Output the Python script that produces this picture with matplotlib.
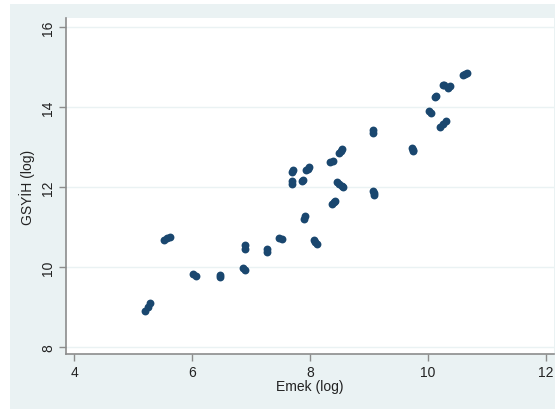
import matplotlib.pyplot as plt
from matplotlib.patches import Rectangle

plt.rcParams['font.family'] = ['Liberation Sans', 'DejaVu Sans']

# log labour vs log GDP, a few years per country
emek = [5.21, 5.25, 5.29,
        5.52, 5.57, 5.62,
        6.02, 6.06,
        6.47, 6.47,
        6.87, 6.90,
        6.89, 6.90,
        7.27, 7.27,
        7.48, 7.53,
        7.69, 7.69,
        7.70, 7.72,
        7.87, 7.88,
        7.93, 7.96, 7.99,
        7.90, 7.92,
        8.06, 8.09, 8.12,
        8.34, 8.39,
        8.49, 8.52, 8.55,
        8.46, 8.50, 8.54, 8.56,
        8.37, 8.40, 8.42,
        9.07, 9.07,
        9.07, 9.08, 9.09,
        9.73, 9.74, 9.75,
        10.02, 10.05,
        10.21, 10.26, 10.31,
        10.12, 10.13,
        10.25, 10.27,
        10.34, 10.37,
        10.60, 10.63, 10.66]
gsyih = [8.90, 9.00, 9.09,
         10.68, 10.72, 10.76,
         9.82, 9.78,
         9.75, 9.79,
         9.98, 9.92,
         10.54, 10.46,
         10.45, 10.38,
         10.72, 10.71,
         12.16, 12.08,
         12.38, 12.43,
         12.16, 12.17,
         12.42, 12.46, 12.50,
         11.21, 11.28,
         10.68, 10.62, 10.57,
         12.63, 12.66,
         12.85, 12.90, 12.95,
         12.12, 12.08, 12.02, 11.99,
         11.58, 11.62, 11.66,
         13.42, 13.36,
         11.90, 11.85, 11.80,
         12.98, 12.93, 12.89,
         13.90, 13.84,
         13.51, 13.58, 13.65,
         14.26, 14.28,
         14.55, 14.54,
         14.48, 14.52,
         14.79, 14.83, 14.86]

xticks = [4, 6, 8, 10, 12]
yticks = [8, 10, 12, 14, 16]

bg = '#eaf2f3'
axcol = '#8c8c8c'

fig = plt.figure(figsize=(5.55, 4.10), dpi=100)
fig.patches.append(Rectangle((10 / 555, 0), 1, 405 / 410, transform=fig.transFigure,
                             facecolor=bg, edgecolor='none', zorder=-10))

ax = fig.add_axes([66 / 555, 55 / 410, 488 / 555, 336 / 410])
ax.set_zorder(1)
ax.set_facecolor('white')
ax.scatter(emek, gsyih, s=32, color='#1a476f', linewidths=0, zorder=3)

ax.set_xlim(3.864, 12.136)
ax.set_ylim(7.825, 16.225)
ax.set_xticks(xticks)
ax.set_yticks(yticks)
ax.set_yticklabels([str(t) for t in yticks], rotation=90, va='center')
ax.grid(axis='y', color=bg, linewidth=1.0)
ax.set_axisbelow(True)

for side in ['top', 'right']:
    ax.spines[side].set_visible(False)
for side in ['left', 'bottom']:
    ax.spines[side].set_color(axcol)
    ax.spines[side].set_linewidth(1.2)
ax.tick_params(color=axcol, length=5, width=1, labelsize=10, labelcolor='#222222', pad=3)

ax.set_xlabel('Emek (log)', fontsize=10, color='#222222', labelpad=0)
ax.set_ylabel('GSYİH (log)', fontsize=10, color='#222222', labelpad=4)

fig.savefig('out.png', dpi=100, facecolor='white')
